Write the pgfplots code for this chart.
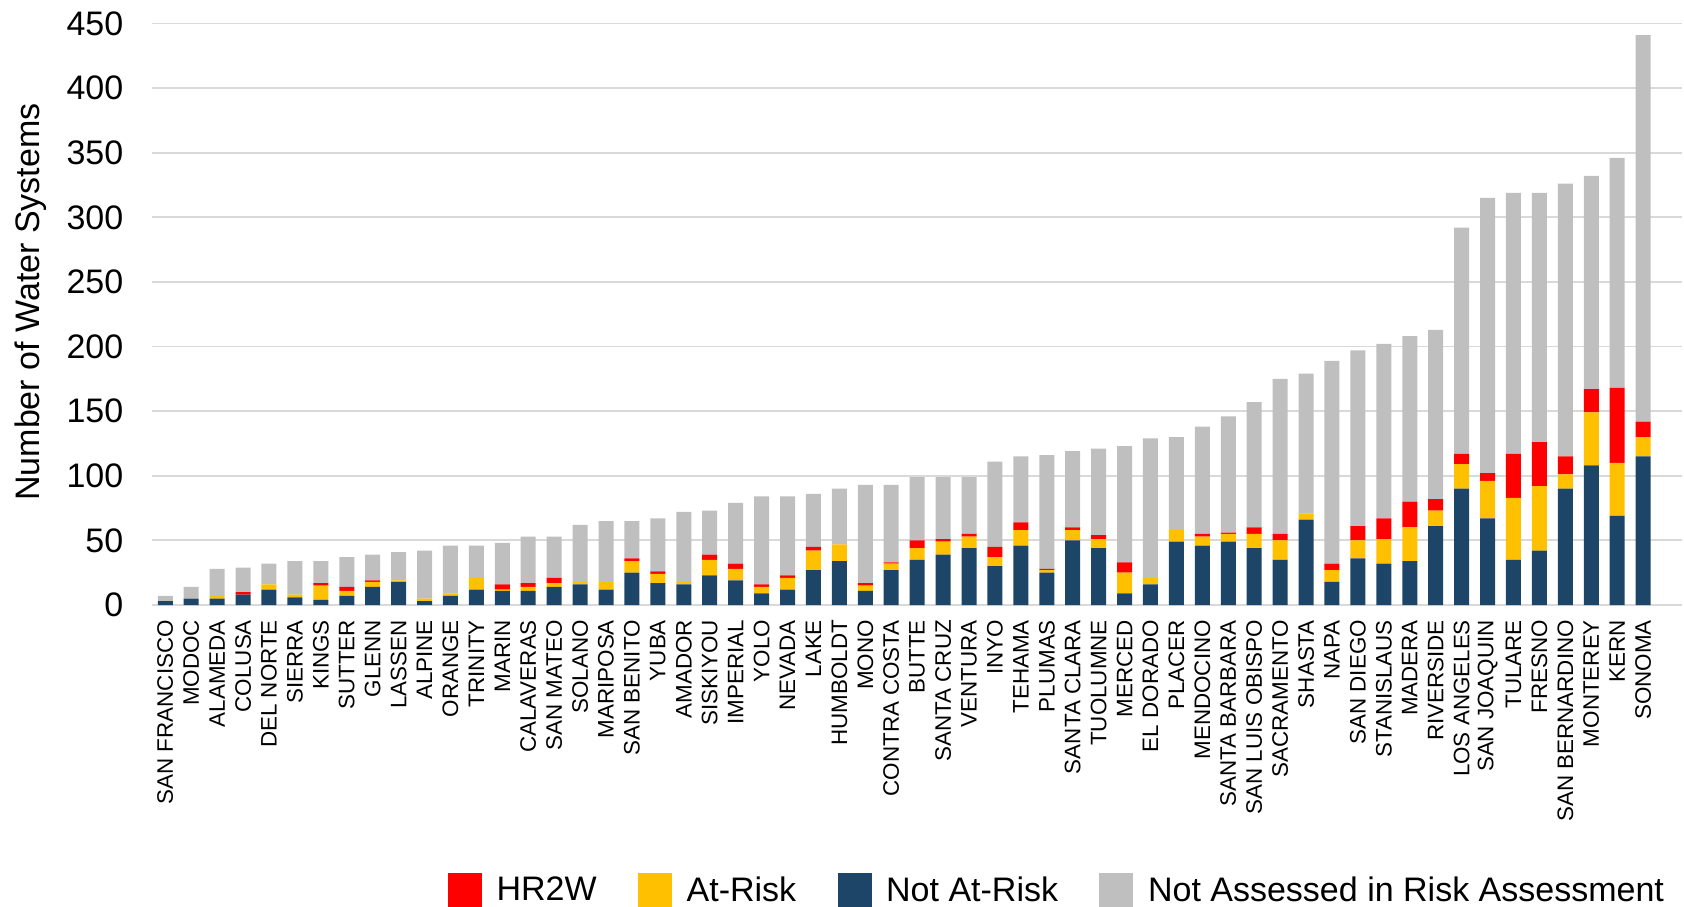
\documentclass[border=0pt]{standalone}
\usepackage{pgfplots}
\pgfplotsset{compat=1.18}
\usepackage{pgfplotstable}
\usepackage{fontspec}
\setmainfont{Liberation Sans}

\definecolor{hrtw}{HTML}{FF0000}
\definecolor{atrisk}{HTML}{FFC000}
\definecolor{notrisk}{HTML}{1D4567}
\definecolor{notassessed}{HTML}{BFBFBF}
\definecolor{gridc}{HTML}{D9D9D9}

% columns: not at-risk, at-risk, HR2W, not assessed
\pgfplotstableread[col sep=comma]{
county,notrisk,atrisk,hrtw,na
SAN FRANCISCO,3,0,0,4
MODOC,5,0,0,9
ALAMEDA,5,2,0,21
COLUSA,8,0,2,19
DEL NORTE,12,4,0,16
SIERRA,6,2,0,26
KINGS,4,11,2,17
SUTTER,7,4,3,23
GLENN,14,4,1,20
LASSEN,18,1,0,22
ALPINE,3,2,0,37
ORANGE,7,2,0,37
TRINITY,12,9,0,25
MARIN,11,1,4,32
CALAVERAS,11,3,3,36
SAN MATEO,14,3,4,32
SOLANO,16,2,0,44
MARIPOSA,12,6,0,47
SAN BENITO,25,9,2,29
YUBA,17,7,2,41
AMADOR,16,2,0,54
SISKIYOU,23,12,4,34
IMPERIAL,19,9,4,47
YOLO,9,5,2,68
NEVADA,12,9,2,61
LAKE,27,15,3,41
HUMBOLDT,34,13,0,43
MONO,11,4,2,76
CONTRA COSTA,27,5,1,60
BUTTE,35,9,6,49
SANTA CRUZ,39,10,2,48
VENTURA,44,9,2,44
INYO,30,7,8,66
TEHAMA,46,12,6,51
PLUMAS,25,2,1,88
SANTA CLARA,50,8,2,59
TUOLUMNE,44,7,3,67
MERCED,9,16,8,90
EL DORADO,16,5,0,108
PLACER,49,9,0,72
MENDOCINO,46,7,2,83
SANTA BARBARA,49,6,1,90
SAN LUIS OBISPO,44,11,5,97
SACRAMENTO,35,15,5,120
SHASTA,66,5,0,108
NAPA,18,9,5,157
SAN DIEGO,36,14,11,136
STANISLAUS,32,19,16,135
MADERA,34,26,20,128
RIVERSIDE,61,12,9,131
LOS ANGELES,90,19,8,175
SAN JOAQUIN,67,29,6,213
TULARE,35,48,34,202
FRESNO,42,50,34,193
SAN BERNARDINO,90,11,14,211
MONTEREY,108,41,18,165
KERN,69,41,58,178
SONOMA,115,15,12,299
}\counties

\begin{document}
\begin{tikzpicture}
\useasboundingbox (-76.15pt,-150.5pt) rectangle (765.85pt,302.5pt);
\begin{axis}[
    at={(0,0)}, anchor=south west,
    scale only axis,
    width=764.85pt, height=290.75pt,
    ybar stacked, bar width=7.5pt,
    xmin=-0.5, xmax=58.5,
    ymin=0, ymax=450,
    ytick={0,50,...,450},
    xtick=data,
    xticklabels from table={\counties}{county},
    axis x line*=bottom, axis y line*=left,
    axis line style={draw=none},
    major tick length=0pt,
    ymajorgrids, grid style={gridc, line width=0.9pt},
    /pgf/number format/assume math mode=true,
    yticklabel style={font=\fontsize{17}{20}\selectfont},
    yticklabel shift=11pt,
    xticklabel style={rotate=90, anchor=east, font=\fontsize{11.2}{13}\selectfont},
    xticklabel shift=4pt,
    ylabel={Number of Water Systems},
    every axis y label/.style={at={(axis description cs:-0.0796,0.521)}, rotate=90, anchor=center, font=\fontsize{17}{20}\selectfont},
    legend image code/.code={\fill[#1] (0pt,-8.25pt) rectangle (16.5pt,8.25pt); \path (21.9pt,0pt);},
    legend style={at={(axis description cs:0.193,-0.4905)}, anchor=west,
        draw=none, fill=none, inner sep=0pt, legend columns=4,
        font=\fontsize{17}{20}\selectfont,
        /tikz/every even column/.append style={column sep=18.7pt}},
]
\addlegendimage{hrtw, fill=hrtw}
\addlegendimage{atrisk, fill=atrisk}
\addlegendimage{notrisk, fill=notrisk}
\addlegendimage{notassessed, fill=notassessed}
\addplot[fill=notrisk, draw=none, forget plot] table[x expr=\coordindex, y=notrisk] {\counties};
\addplot[fill=atrisk, draw=none, forget plot] table[x expr=\coordindex, y=atrisk] {\counties};
\addplot[fill=hrtw, draw=none, forget plot] table[x expr=\coordindex, y=hrtw] {\counties};
\addplot[fill=notassessed, draw=none, forget plot] table[x expr=\coordindex, y=na] {\counties};
\legend{HR2W, At-Risk, Not At-Risk, Not Assessed in Risk Assessment}
\end{axis}
\end{tikzpicture}
\end{document}
